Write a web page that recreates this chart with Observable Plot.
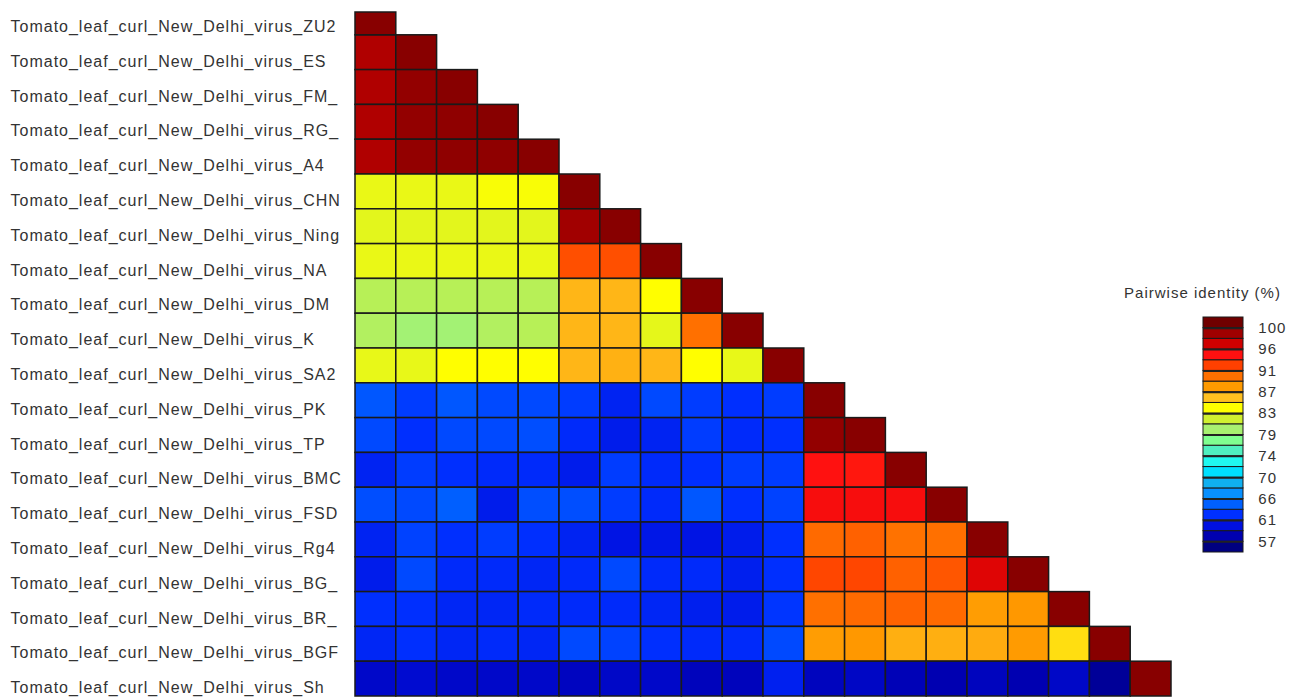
<!DOCTYPE html>
<html>
<head>
<meta charset="utf-8">
<script src="https://cdn.jsdelivr.net/npm/d3@7"></script>
<script src="https://cdn.jsdelivr.net/npm/@observablehq/plot@0.6"></script>
<style>
  body { margin: 0; background: #fff; }
  #wrap { position: relative; width: 1300px; height: 697px; overflow: hidden; background: #fff; }
  #heat { position: absolute; left: 0; top: 0; }
  #legend { position: absolute; left: 1110px; top: 270px; }
</style>
</head>
<body>
<div id="wrap"><div id="heat"></div><div id="legend"></div></div>
<script>
// ---- Data ----
const labelPrefix = "Tomato_leaf_curl_New_Delhi_virus_";
const isolates = ["ZU2","ES","FM_","RG_","A4","CHN","Ning","NA","DM","K","SA2","PK","TP","BMC","FSD","Rg4","BG_","BR_","BGF","Sh"];

// Lower-triangle pairwise identity (%) – one array per row (row i has i+1 values incl. diagonal)
const rowZU2  = [100];
const rowES   = [98.2, 100];
const rowFM   = [98.2, 99.5, 100];
const rowRG   = [98.2, 99.5, 99.7, 100];
const rowA4   = [98.2, 99.5, 99.7, 99.7, 100];
const rowCHN  = [82.9, 82.9, 82.9, 83.6, 83.6, 100];
const rowNing = [82.6, 82.6, 82.6, 82.6, 82.6, 98.9, 100];
const rowNA   = [82.9, 82.9, 82.9, 82.9, 82.9, 91.8, 91.8, 100];
const rowDM   = [80.4, 80.4, 80.4, 80.4, 80.4, 86.6, 86.6, 83.9, 100];
const rowK    = [80.1, 79.3, 79.3, 80.1, 80.4, 86.6, 86.6, 82.7, 90.3, 100];
const rowSA2  = [82.8, 82.8, 83.9, 83.9, 83.9, 86.6, 86.9, 86.6, 83.9, 82.8, 100];
const rowPK   = [64.1, 62.9, 64.1, 63.5, 63.5, 62.9, 61.5, 63.5, 62.9, 62.3, 62.9, 100];
const rowTP   = [63.5, 62.3, 63.5, 63.5, 63.7, 62.0, 61.0, 61.5, 62.9, 62.0, 62.3, 99.5, 100];
const rowBMC  = [61.5, 62.9, 62.3, 62.0, 62.0, 61.0, 62.9, 62.0, 62.3, 62.9, 62.9, 94.6, 94.3, 100];
const rowFSD  = [63.7, 63.5, 64.5, 61.0, 63.7, 63.7, 62.9, 62.0, 64.1, 62.3, 63.2, 95.0, 95.0, 95.0, 100];
const rowRg4  = [61.5, 63.2, 62.3, 62.9, 62.3, 61.5, 60.5, 60.7, 60.5, 61.0, 62.3, 90.6, 91.0, 90.2, 90.3, 100];
const rowBG   = [61.0, 63.5, 62.0, 62.0, 61.7, 62.0, 63.5, 62.0, 62.0, 61.2, 62.3, 92.2, 92.2, 91.0, 91.5, 96.1, 100];
const rowBR   = [62.3, 62.3, 61.7, 61.7, 62.0, 62.0, 62.0, 61.7, 61.2, 61.0, 62.6, 90.3, 90.6, 90.9, 90.6, 88.0, 88.3, 100];
const rowBGF  = [61.7, 62.3, 61.7, 62.0, 61.7, 63.5, 63.2, 62.3, 62.0, 62.0, 63.5, 88.0, 88.3, 87.0, 87.0, 87.2, 88.1, 85.0, 100];
const rowSh   = [59.2, 59.5, 59.2, 59.2, 59.2, 58.8, 59.1, 59.2, 58.6, 58.6, 61.3, 58.7, 59.0, 58.4, 58.1, 58.7, 58.1, 59.1, 57.0, 100];
const identityRows = [rowZU2,rowES,rowFM,rowRG,rowA4,rowCHN,rowNing,rowNA,rowDM,rowK,rowSA2,rowPK,rowTP,rowBMC,rowFSD,rowRg4,rowBG,rowBR,rowBGF,rowSh];

// Legend
const legendTitle = "Pairwise identity (%)";
const legendMin = 57, legendMax = 100;
const legendTickLabels = ["57","61","66","70","74","79","83","87","91","96","100"];
const legendBlockCount = 22;

// ---- Styles ----
const FONT = "'Liberation Sans', Arial, Helvetica, sans-serif";
// colours of the 22 legend blocks, bottom -> top
const paletteColors = ["#000080","#0000b0","#0010e0","#0030ff","#0060ff","#0890ff","#10b0f0","#00e0ff","#20f8f0","#50f0c0","#80ff90","#a8f070","#d0f030","#ffff00","#ffc020","#ff9a00","#ff7000","#ff4000","#ff1010","#d00000","#a00000","#700000"];

// ---- Derived ----
const tickStep = (legendMax - legendMin) / (legendTickLabels.length - 1);
const blockStep = tickStep / 2;
const blockLo = legendMin - blockStep;
const blocks = d3.range(legendBlockCount).map(i => ({lo: blockLo + i*blockStep, hi: blockLo + (i+1)*blockStep, mid: blockLo + (i+0.5)*blockStep}));
const colorScale = {type: "linear", domain: blocks.map(b => b.mid), range: paletteColors, interpolate: "rgb", clamp: true};

const cells = [];
identityRows.forEach((row, i) => row.forEach((v, j) => cells.push({row: i, col: j, value: v})));
const n = isolates.length;

const heat = Plot.plot({
  width: 1300, height: 697,
  marginLeft: 355, marginRight: 129, marginTop: 0, marginBottom: 1,
  style: {fontFamily: FONT, background: "#fff"},
  x: {type: "band", domain: d3.range(n), padding: 0, round: false, axis: null},
  y: {type: "band", domain: d3.range(n), padding: 0, round: false, axis: null},
  color: colorScale,
  marks: [
    Plot.cell(cells.filter(d => d.row > 0), {x: "col", y: "row", fill: "value", stroke: "#1a1a1a", strokeWidth: 1.5, inset: 0}),
    Plot.cell(cells.filter(d => d.row === 0), {x: "col", y: "row", fill: "value", stroke: "#1a1a1a", strokeWidth: 1.5, inset: 0, insetTop: 12}),
    Plot.text(isolates, {y: (d, i) => i, text: d => labelPrefix + d, frameAnchor: "left", textAnchor: "start", dx: -345, dy: 9, fontSize: 16, fill: "#333"})
  ]
});
d3.select(heat).selectAll("text").style("letter-spacing", "1px");
document.getElementById("heat").appendChild(heat);

const tickValues = legendTickLabels.map((_, i) => legendMin + i*tickStep);
const legend = Plot.plot({
  width: 190, height: 295,
  marginLeft: 93, marginRight: 57, marginTop: 47, marginBottom: 13,
  style: {fontFamily: FONT, background: "transparent", overflow: "visible"},
  x: {domain: [0, 1], axis: null},
  y: {domain: [blocks[0].lo, blocks[blocks.length-1].hi], axis: null},
  color: colorScale,
  marks: [
    Plot.rect(blocks, {x1: 0, x2: 1, y1: "lo", y2: "hi", fill: "mid", stroke: "#1a1a1a", strokeWidth: 1}),
    Plot.tickY(tickValues, {y: d => d, x1: 1, x2: 1.25, stroke: "#222", strokeWidth: 2}),
    Plot.text(tickValues, {y: d => d, x: 1.37, text: (d, i) => legendTickLabels[i], textAnchor: "start", fontSize: 15, fill: "#333"}),
    Plot.text([legendTitle], {frameAnchor: "top", dx: -21, dy: -30, fontSize: 15, fill: "#333"})
  ]
});
d3.select(legend).selectAll("text").style("letter-spacing", "1px");
document.getElementById("legend").appendChild(legend);
</script>
</body>
</html>
